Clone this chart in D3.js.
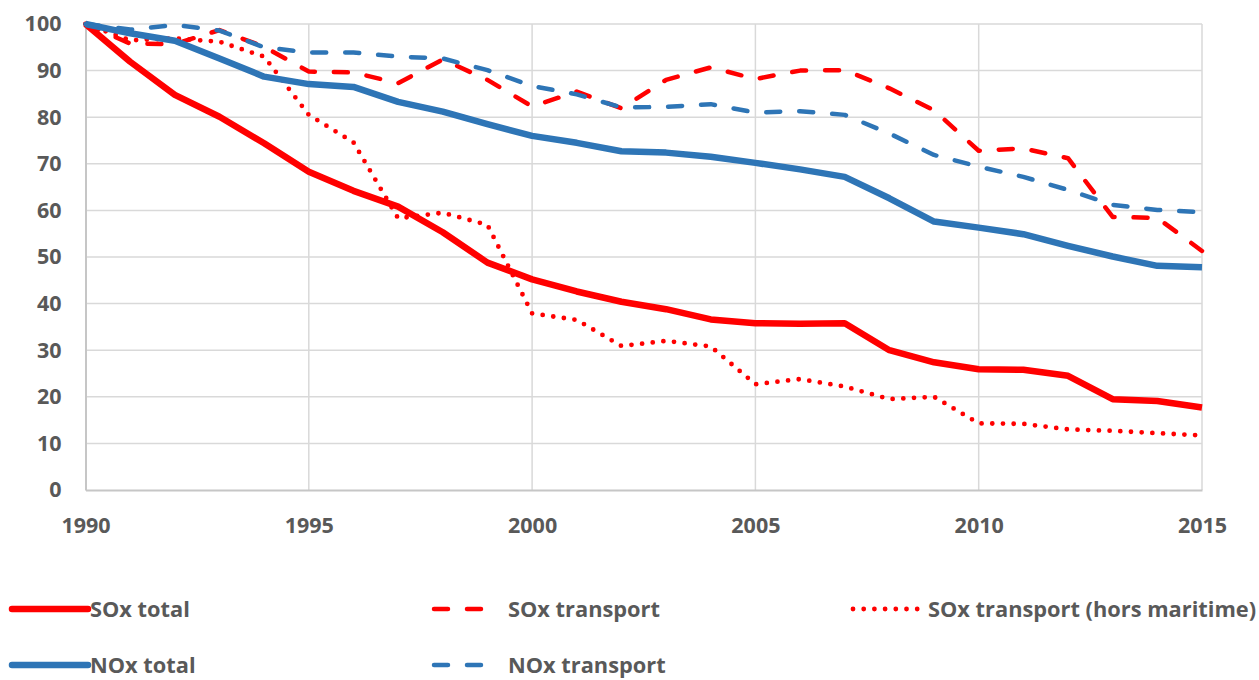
<!DOCTYPE html>
<html>
<head>
<meta charset="utf-8">
<script src="https://cdn.jsdelivr.net/npm/d3@7"></script>
<style>
  body { margin: 0; background: #fff; }
  svg text { font-family: "Open Sans", sans-serif; font-weight: bold; fill: #595959; }
</style>
</head>
<body>
<div id="scene"></div>
<script>
var years = d3.range(1990, 2016);

var soxTotal = [100, 91.9, 84.8, 80.1, 74.4, 68.3, 64.2, 60.8, 55.3, 48.8,
  45.2, 42.6, 40.4, 38.8, 36.6, 35.8, 35.7, 35.8, 30.0, 27.4,
  25.9, 25.8, 24.5, 19.5, 19.1, 17.7];
var soxTransport = [100, 95.8, 95.7, 98.7, 95.1, 89.8, 89.6, 87.3, 92.4, 88.0,
  82.3, 85.5, 81.9, 88.0, 90.7, 88.2, 90.0, 90.1, 86.2, 81.5,
  72.8, 73.3, 71.2, 58.6, 58.4, 51.3];
var soxHorsMaritime = [100, 96.5, 96.9, 96.2, 93.0, 80.5, 74.6, 58.3, 59.5, 56.9,
  37.9, 36.5, 30.9, 32.0, 30.8, 22.7, 23.8, 22.2, 19.5, 20.0,
  14.3, 14.2, 13.0, 12.7, 12.2, 11.7];
var noxTotal = [100, 98.0, 96.4, 92.6, 88.7, 87.1, 86.5, 83.3, 81.2, 78.5,
  76.0, 74.5, 72.7, 72.4, 71.5, 70.2, 68.8, 67.2, 62.6, 57.6,
  56.3, 54.9, 52.4, 50.1, 48.1, 47.8];
var noxTransport = [100, 98.8, 99.8, 98.6, 95.0, 93.9, 93.9, 93.0, 92.6, 90.1,
  86.7, 84.9, 82.1, 82.2, 82.8, 81.0, 81.3, 80.5, 76.5, 71.9,
  69.4, 67.2, 64.4, 61.2, 60.1, 59.6];

var xTicks = [1990, 1995, 2000, 2005, 2010, 2015];
var yTicks = [0, 10, 20, 30, 40, 50, 60, 70, 80, 90, 100];

var red = "#ff0000", blue = "#2e75b6";

// series in drawing order, with style
var series = [
  {name: "SOx total", values: soxTotal, color: red, width: 6.5, dash: null},
  {name: "SOx transport", values: soxTransport, color: red, width: 4.5, dash: "14,19"},
  {name: "SOx transport (hors maritime)", values: soxHorsMaritime, color: red, width: 4.8, dash: "0,10.7"},
  {name: "NOx total", values: noxTotal, color: blue, width: 6.5, dash: null},
  {name: "NOx transport", values: noxTransport, color: blue, width: 4.5, dash: "14,19"}
];

var W = 1259, H = 680;
var m = {left: 85.5, right: 1202, top: 24, bottom: 490};

var svg = d3.select("#scene").append("svg")
  .attr("width", W)
  .attr("height", H);

var x = d3.scaleLinear().domain([1990, 2015]).range([m.left, m.right]);
var y = d3.scaleLinear().domain([0, 100]).range([m.bottom, m.top]);

// gridlines
var grid = svg.append("g");
grid.selectAll(".hg")
  .data(yTicks.filter(function(d) { return d > 0; }))
  .enter().append("line")
  .attr("x1", m.left).attr("x2", m.right)
  .attr("y1", function(d) { return y(d); })
  .attr("y2", function(d) { return y(d); })
  .attr("stroke", "#d9d9d9").attr("stroke-width", 1.5);
grid.selectAll(".vg")
  .data(xTicks.filter(function(d) { return d > 1990; }))
  .enter().append("line")
  .attr("x1", function(d) { return x(d); })
  .attr("x2", function(d) { return x(d); })
  .attr("y1", m.top).attr("y2", m.bottom)
  .attr("stroke", "#d9d9d9").attr("stroke-width", 1.5);

// axes
var yAxis = svg.append("g")
  .attr("transform", "translate(" + m.left + ",0)")
  .call(d3.axisLeft(y).tickValues(yTicks).tickSize(0).tickPadding(24));
var xAxis = svg.append("g")
  .attr("transform", "translate(0," + m.bottom + ")")
  .call(d3.axisBottom(x).tickValues(xTicks).tickFormat(d3.format("d")).tickSize(0).tickPadding(28));

[xAxis, yAxis].forEach(function(a) {
  a.select(".domain").attr("stroke", "#c6c6c6").attr("stroke-width", 2);
  a.selectAll("text").attr("font-size", 21.5).attr("fill", "#595959");
});

// lines
var line = d3.line()
  .x(function(d, i) { return x(years[i]); })
  .y(function(d) { return y(d); });

svg.append("g").selectAll("path")
  .data(series)
  .enter().append("path")
  .attr("d", function(s) { return line(s.values); })
  .attr("fill", "none")
  .attr("stroke", function(s) { return s.color; })
  .attr("stroke-width", function(s) { return s.width; })
  .attr("stroke-dasharray", function(s) { return s.dash; })
  .attr("stroke-linecap", function(s) { return s.dash ? "round" : "butt"; })
  .attr("stroke-linejoin", "round");

// legend
var legendPos = [
  {x: 12, len: 76, y: 609},
  {x: 432, len: 56, y: 609},
  {x: 851, len: 70, y: 609},
  {x: 12, len: 76, y: 665},
  {x: 432, len: 56, y: 665}
];
var textGap = [2, 20, 7, 2, 20];

var lg = svg.append("g").selectAll("g")
  .data(series)
  .enter().append("g");

lg.append("line")
  .attr("x1", function(s, i) { return legendPos[i].x + (s.dash ? 2 : 0); })
  .attr("x2", function(s, i) { return legendPos[i].x + legendPos[i].len; })
  .attr("y1", function(s, i) { return legendPos[i].y; })
  .attr("y2", function(s, i) { return legendPos[i].y; })
  .attr("stroke", function(s) { return s.color; })
  .attr("stroke-width", function(s) { return s.width; })
  .attr("stroke-dasharray", function(s) { return s.dash; })
  .attr("stroke-linecap", "round");

lg.append("text")
  .attr("x", function(s, i) { return legendPos[i].x + legendPos[i].len + textGap[i]; })
  .attr("y", function(s, i) { return legendPos[i].y; })
  .attr("dy", "0.35em")
  .attr("font-size", 21.8)
  .text(function(s) { return s.name; });
</script>
</body>
</html>
